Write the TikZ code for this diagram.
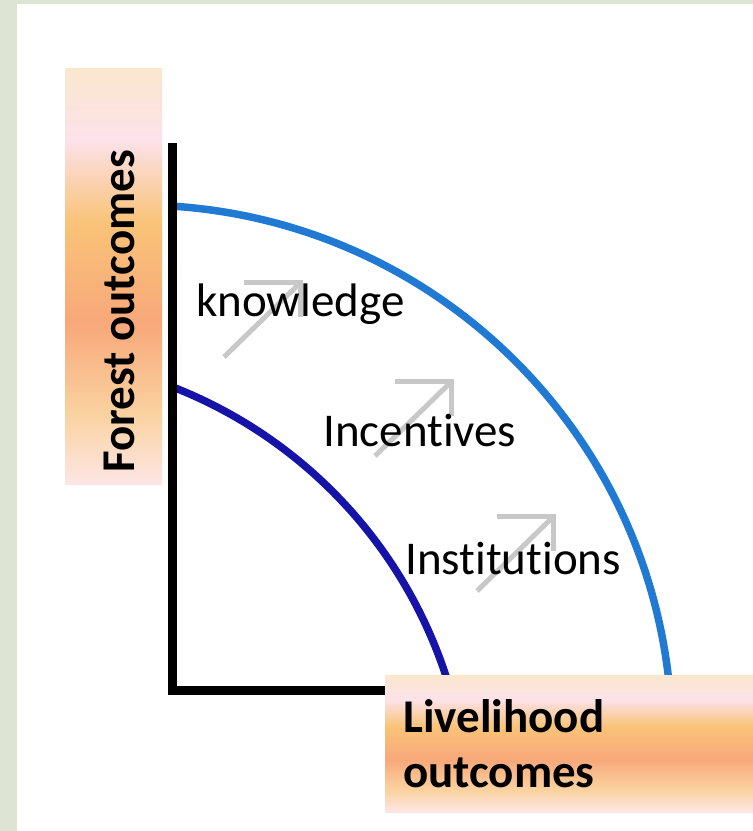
\documentclass[tikz,border=0pt]{standalone}
\usepackage{fontspec}
\setmainfont{Carlito}[Ligatures=NoCommon]

\definecolor{leafbg}{RGB}{221,228,212}
\definecolor{ppfouter}{RGB}{32,122,212}
\definecolor{ppfinner}{RGB}{22,20,168}
\definecolor{hintgray}{RGB}{200,200,200}
\definecolor{bandpale}{RGB}{251,231,206}
\definecolor{bandrose}{RGB}{252,226,234}
\definecolor{bandorange}{RGB}{249,195,120}
\definecolor{bandsalmon}{RGB}{248,168,122}
\definecolor{bandlight}{RGB}{250,210,160}
\definecolor{bandpink}{RGB}{253,230,230}

% peach/orange band behind the axis titles
\pgfdeclareverticalshading{peachband}{100bp}{color(0bp)=(bandpink); color(25bp)=(bandpink);
  color(33.5bp)=(bandlight); color(44.5bp)=(bandsalmon); color(56.5bp)=(bandorange);
  color(66.5bp)=(bandrose); color(75bp)=(bandpale); color(100bp)=(bandpale)}

\begin{document}
\begin{tikzpicture}[x=1pt,y=1pt,
    band/.style={shading=peachband, inner sep=0pt, anchor=south west},
    lbl/.style={font=\fontsize{47}{56}\selectfont, inner sep=0pt, anchor=base west},
    hintarrow/.style={draw=hintgray, line width=5pt},
    frontier/.style={line width=7.5pt}]
        \useasboundingbox (0,0) rectangle (753,831);
        \fill[leafbg] (0,0) rectangle (753,831);
        \fill[white] (17,0) rectangle (753,827);

        % faint arrows showing the frontier moving out
        \foreach \tx/\ty in {300/548, 451/449, 553/314} {
            \draw[hintarrow] (\tx-56,\ty) -- (\tx,\ty) -- (\tx,\ty-34);
            \draw[hintarrow] (\tx-76,\ty-74) -- (\tx,\ty);
        }

        % the two frontiers
        \draw[frontier, ppfouter] (172,624.9) arc[start angle=86.35, end angle=3, radius=534];
        \draw[frontier, ppfinner] (172,444.3) arc[start angle=68.74, end angle=14, radius=466];

        % axes
        \coordinate (top) at (172,688);
        \coordinate (origin) at (172,140);
        \coordinate (right) at (420,140);
        \draw[line width=9pt, miter limit=4] (top) -- (origin) -- (right);

        \node[band, minimum width=97pt, minimum height=416pt] (forestbox) at (65,346) {};
        \node[band, minimum width=368pt, minimum height=137pt] (livebox) at (385,18) {};

        \node[lbl, font=\fontsize{47}{56}\selectfont\bfseries, rotate=90] (forest) at (134,358) {Forest outcomes};
        \node[lbl, font=\fontsize{47}{56}\selectfont\bfseries, align=left] (livelihood) at (403,43) {Livelihood\\outcomes};

        \node[lbl] (knowledge) at (196,514) {knowledge};
        \node[lbl] (incentives) at (323,384) {Incentives};
        \node[lbl] (institutions) at (405,256) {Institutions};
\end{tikzpicture}
\end{document}
